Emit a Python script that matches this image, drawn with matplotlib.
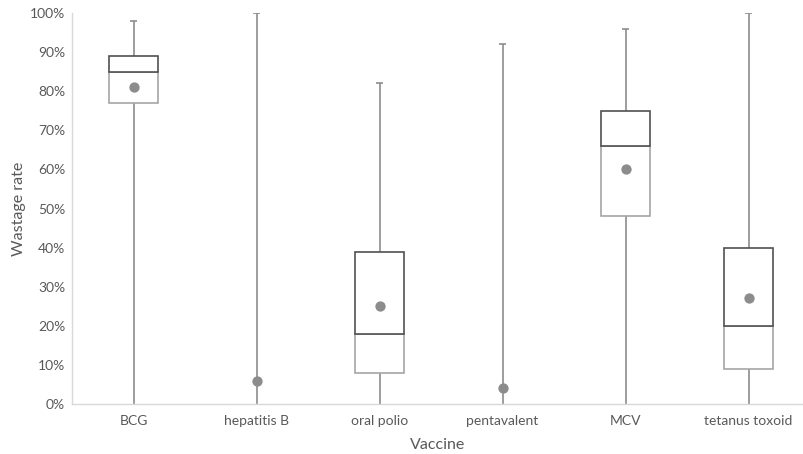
"""Wastage rate by vaccine, Excel-style box plot"""

import matplotlib
matplotlib.use("Agg")
import matplotlib.pyplot as plt
from matplotlib.ticker import PercentFormatter

plt.rcParams["font.family"] = ["Lato", "DejaVu Sans"]

vaccines = ["BCG", "hepatitis B", "oral polio", "pentavalent", "MCV", "tetanus toxoid"]
minimum = [0, 0, 0, 0, 0, 0]
q1 = [77, 0, 8, 0, 48, 9]
median = [85, 0, 18, 0, 66, 20]
q3 = [89, 0, 39, 0, 75, 40]
maximum = [98, 100, 82, 92, 96, 100]
mean = [81, 6, 25, 4, 60, 27]

TEXT = "#595959"
WHISK = "#8c8c8c"
DARK = "#505050"
LIGHT = "#a6a6a6"

fig = plt.figure(figsize=(8.04, 4.54), dpi=100)
ax = fig.add_axes([72 / 804, 50 / 454, 732 / 804, 391 / 454])

xs = list(range(len(vaccines)))
ax.vlines(xs, minimum, maximum, color=WHISK, lw=1.2, zorder=1)
ax.hlines(maximum, [x - 0.03 for x in xs], [x + 0.03 for x in xs],
          color=WHISK, lw=1.2, zorder=1)

# only categories whose box has some height
boxed = [i for i in xs if q3[i] > q1[i]]
ax.bar(boxed, [median[i] - q1[i] for i in boxed], bottom=[q1[i] for i in boxed],
       width=0.4, color="white", edgecolor=LIGHT, linewidth=1.2, zorder=2)
ax.bar(boxed, [q3[i] - median[i] for i in boxed], bottom=[median[i] for i in boxed],
       width=0.4, color="white", edgecolor=DARK, linewidth=1.2, zorder=3)

ax.scatter(xs, mean, s=55, color="#8c8c8c", zorder=4, linewidths=0)

ax.set_xlim(-0.5, 5.45)
ax.set_ylim(0, 100)
ax.set_yticks(range(0, 101, 10))
ax.yaxis.set_major_formatter(PercentFormatter(decimals=0))
ax.set_xticks(xs)
ax.set_xticklabels(vaccines)
ax.tick_params(axis="both", length=0, colors=TEXT, labelsize=10)
ax.tick_params(axis="x", pad=8)
ax.tick_params(axis="y", pad=5)

for side in ["top", "right"]:
    ax.spines[side].set_visible(False)
for side in ["left", "bottom"]:
    ax.spines[side].set_color("#d9d9d9")
    ax.spines[side].set_linewidth(1.0)

ax.set_xlabel("Vaccine", color=TEXT, fontsize=11.5, labelpad=8)
ax.set_ylabel("Wastage rate", color=TEXT, fontsize=11.5)
ax.yaxis.set_label_coords(-46 / 732, 0.5)

fig.savefig("out.png", dpi=100)
